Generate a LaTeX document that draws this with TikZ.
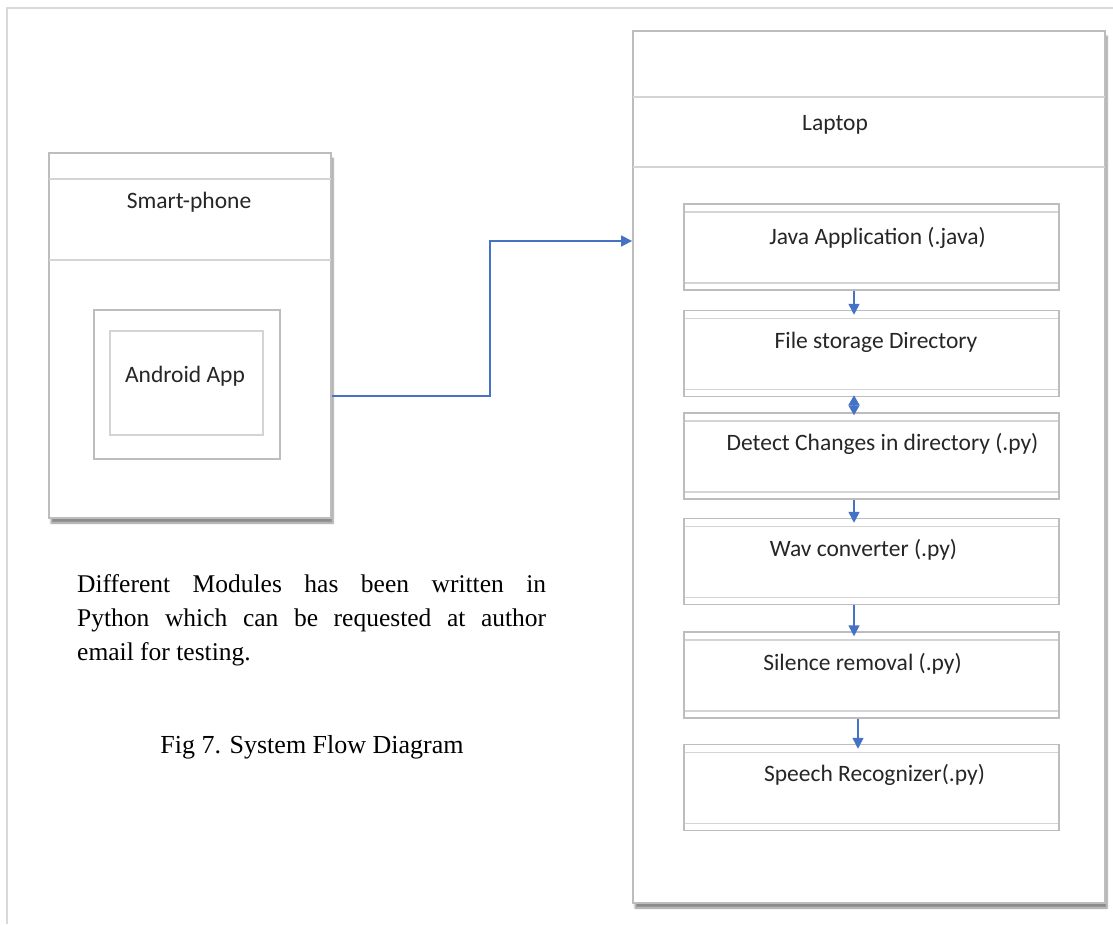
\documentclass[tikz,border=0pt]{standalone}
\usepackage{fontspec}
\setmainfont{Liberation Serif}
\newfontfamily\diagfont{Carlito}
\usetikzlibrary{arrows.meta,shadows.blur}

\definecolor{framegray}{HTML}{D9D9D9}
\definecolor{boxgray}{HTML}{BDBDBD}
\definecolor{linegray}{HTML}{D4D4D4}
\definecolor{linkblue}{HTML}{4472C4}

\begin{document}
\begin{tikzpicture}[x=1pt,y=-1pt,
    box/.style={draw=boxgray,line width=1.8pt,fill=white,inner sep=0pt,
      blur shadow={shadow xshift=2pt,shadow yshift=-5pt,shadow blur steps=6,shadow opacity=45}},
    modbox/.style={draw=boxgray,line width=1.5pt,minimum width=375pt,minimum height=86pt,inner sep=0pt,
      path picture={
        \draw[linegray,line width=1.5pt] ([yshift=-8pt]path picture bounding box.north west) -- ([yshift=-8pt]path picture bounding box.north east);
        \draw[linegray,line width=1.5pt] ([yshift=7pt]path picture bounding box.south west) -- ([yshift=7pt]path picture bounding box.south east);
      }},
    lbl/.style={font=\diagfont\fontsize{23.5}{28}\selectfont,text=black!85,inner sep=0pt},
    flow/.style={linkblue,line width=1.5pt,-{Triangle[length=11pt,width=11pt]}}]
  \useasboundingbox (0,0) rectangle (1113,924);
  % page frame
  \draw[framegray,line width=2pt] (7,924) -- (7,8) -- (1113,8);

  % smart-phone
  \node[box,minimum width=282pt,minimum height=365pt] (phone) at (190,335.5) {};
  \draw[linegray,line width=1.5pt] (49,179) -- (331,179);
  \draw[linegray,line width=1.5pt] (49,260) -- (331,260);
  \node[lbl] (phonetxt) at (189,202) {Smart-phone};
  \node[draw=boxgray,line width=1.5pt,minimum width=186pt,minimum height=149pt] (app) at (187,384.5) {};
  \node[draw=linegray,line width=1.5pt,minimum width=153pt,minimum height=104pt] (appin) at (186.5,383) {};
  \node[lbl] (apptxt) at (185,376) {Android App};

  % laptop
  \node[box,minimum width=472pt,minimum height=872pt] (laptop) at (869,467) {};
  \draw[linegray,line width=1.5pt] (633,97) -- (1105,97);
  \draw[linegray,line width=1.5pt] (633,167) -- (1105,167);
  \node[lbl] (laptoptxt) at (835,124.5) {Laptop};

  % modules
  \foreach \i/\cy/\tx/\ty/\txt in {1/247/877.5/238/Java Application (.java),
      2/353.5/876/342/File storage Directory,
      3/456/882.5/444/Detect Changes in directory (.py),
      4/561.5/863.5/550/Wav converter (.py),
      5/675/862.5/664/Silence removal (.py),
      6/787.5/874.5/775/Speech Recognizer(.py)}{
    \node[modbox] (m\i) at (871.5,\cy) {};
    \node[lbl] (t\i) at (\tx,\ty) {\txt};
  }

  \draw[flow,shorten >=-5pt] ([xshift=-17.5pt]m1.south) -- ([xshift=-17.5pt]m2.north);
  \draw[linkblue,line width=1.5pt,{Triangle[length=10pt,width=11pt]}-{Triangle[length=10pt,width=11pt]},shorten >=-3pt,shorten <=-2pt] ([xshift=-17.5pt]m2.south) -- ([xshift=-17.5pt]m3.north);
  \draw[flow,shorten >=-5pt] ([xshift=-17.5pt]m3.south) -- ([xshift=-17.5pt]m4.north);
  \draw[flow,shorten >=-5pt] ([xshift=-17.5pt]m4.south) -- ([xshift=-17.5pt]m5.north);
  \draw[flow,shorten >=-5pt] ([xshift=-13.5pt]m5.south) -- ([xshift=-13.5pt]m6.north);

  % phone to laptop
  \draw[flow] ([yshift=-60.5pt]phone.east) -| (490,241) -- ([yshift=226pt]laptop.west);

  % notes
  \node[anchor=base west,text width=469pt,align=justify,inner sep=0pt,
    font=\fontsize{25.5}{34}\selectfont] (note) at (77,592)
    {Different Modules has been written in\linebreak Python which can be requested at author\linebreak email for testing.};
  \node[anchor=base,inner sep=0pt,font=\fontsize{26}{34}\selectfont] (caption) at (312,753)
    {Fig 7. System Flow Diagram};
\end{tikzpicture}
\end{document}
